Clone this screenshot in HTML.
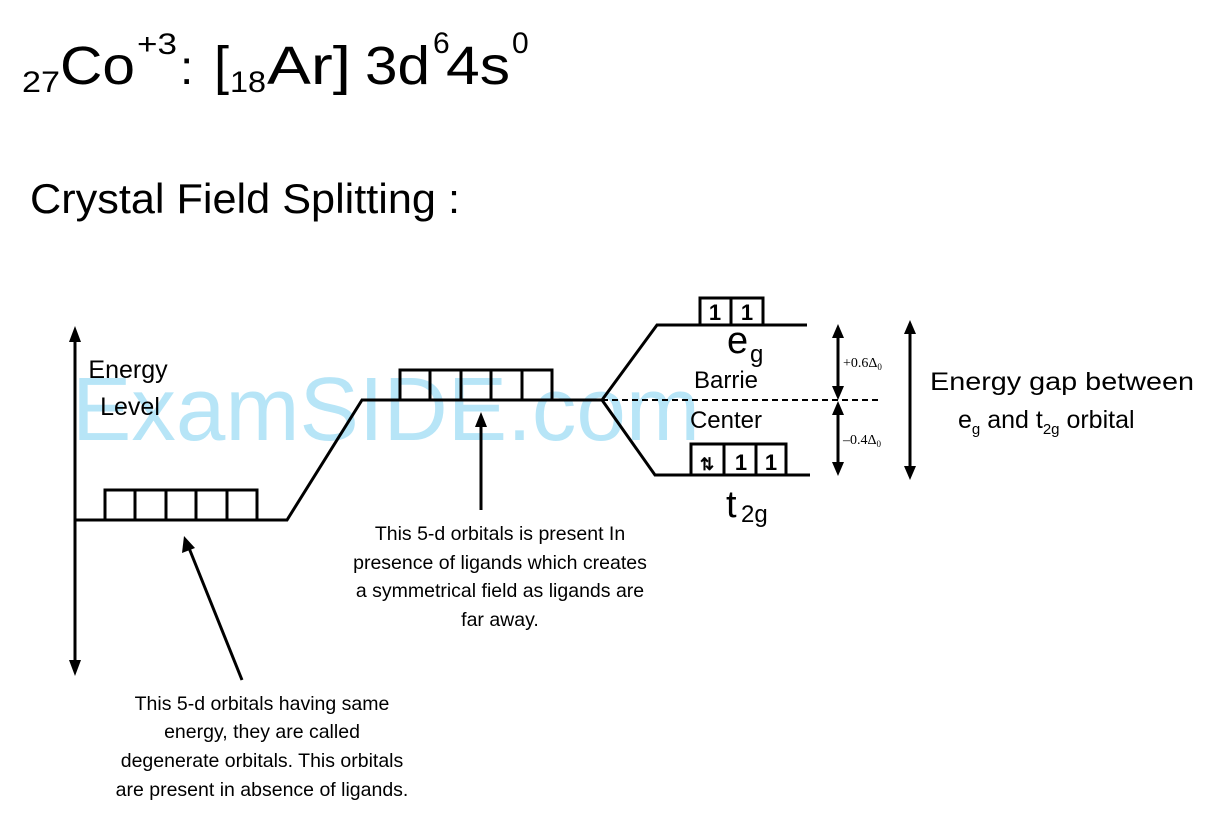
<!DOCTYPE html>
<html><head><meta charset="utf-8"><style>
html,body{margin:0;padding:0;background:#fff;}
svg{display:block;font-family:"Liberation Sans",sans-serif;}
</style></head><body>
<svg width="1220" height="815" viewBox="0 0 1220 815" xmlns="http://www.w3.org/2000/svg">
<!-- title -->
<text x="22" y="92" font-size="30" textLength="38" lengthAdjust="spacingAndGlyphs">27</text>
<text x="60" y="84" font-size="54" textLength="75" lengthAdjust="spacingAndGlyphs">Co</text>
<text x="137" y="54" font-size="30" textLength="40" lengthAdjust="spacingAndGlyphs">+3</text>
<text x="180" y="84" font-size="48">:</text>
<text x="214" y="84" font-size="54">[</text>
<text x="230" y="92" font-size="30" textLength="36" lengthAdjust="spacingAndGlyphs">18</text>
<text x="267" y="84" font-size="54" textLength="84" lengthAdjust="spacingAndGlyphs">Ar]</text>
<text x="365" y="84" font-size="54" textLength="65" lengthAdjust="spacingAndGlyphs">3d</text>
<text x="433" y="53" font-size="30">6</text>
<text x="446" y="84" font-size="54" textLength="64" lengthAdjust="spacingAndGlyphs">4s</text>
<text x="512" y="53" font-size="30">0</text>
<text x="30" y="213" font-size="42" textLength="430" lengthAdjust="spacingAndGlyphs">Crystal Field Splitting :</text>
<!-- watermark -->
<text x="72" y="440" font-size="90" fill="#9fdcf4" fill-opacity="0.75" textLength="628" lengthAdjust="spacingAndGlyphs">ExamSIDE.com</text>
<g stroke="#000" stroke-width="3" fill="none">
<line x1="75" y1="335" x2="75" y2="668"/>
<polyline points="75,520 287,520 362,400 602,400 657,325 807,325"/>
<polyline points="602,400 655,475 810,475"/>
<rect x="105" y="490" width="152" height="30"/>
<line x1="135" y1="490" x2="135" y2="520"/><line x1="166" y1="490" x2="166" y2="520"/><line x1="196" y1="490" x2="196" y2="520"/><line x1="227" y1="490" x2="227" y2="520"/>
<rect x="400" y="370" width="152" height="30"/>
<line x1="430" y1="370" x2="430" y2="400"/><line x1="461" y1="370" x2="461" y2="400"/><line x1="491" y1="370" x2="491" y2="400"/><line x1="522" y1="370" x2="522" y2="400"/>
<rect x="700" y="298" width="63" height="27"/><line x1="731" y1="298" x2="731" y2="325"/>
<rect x="691" y="444" width="95" height="31"/><line x1="724" y1="444" x2="724" y2="475"/><line x1="756" y1="444" x2="756" y2="475"/>
<line x1="602" y1="400" x2="878" y2="400" stroke-width="2" stroke-dasharray="6,4"/>
<line x1="838" y1="335" x2="838" y2="392"/>
<line x1="838" y1="408" x2="838" y2="466"/>
<line x1="910" y1="332" x2="910" y2="468"/>
<line x1="242" y1="680" x2="189" y2="548"/>
<line x1="481" y1="510" x2="481" y2="425"/>
</g>
<g fill="#000">
<polygon points="75,326 69,342 81,342"/>
<polygon points="75,676 69,660 81,660"/>
<polygon points="838,324 832,338 844,338"/>
<polygon points="838,400 832,386 844,386"/>
<polygon points="838,401 832,415 844,415"/>
<polygon points="838,476 832,462 844,462"/>
<polygon points="910,320 904,334 916,334"/>
<polygon points="910,480 904,466 916,466"/>
<polygon points="184,536 182,553 195,548"/>
<polygon points="481,412 475,427 487,427"/>
</g>
<g font-size="22" font-weight="bold" text-anchor="middle">
<text x="715" y="320">1</text><text x="747" y="320">1</text>
<text x="741" y="470">1</text><text x="771" y="470">1</text>
<text x="707" y="470" font-size="17">⇅</text>
</g>
<text x="727" y="353" font-size="38">e</text><text x="750" y="362" font-size="24">g</text>
<text x="726" y="517" font-size="38">t</text><text x="741" y="522" font-size="24">2g</text>
<g font-size="24" text-anchor="middle">
<text x="726" y="388">Barrie</text>
<text x="726" y="428">Center</text>
<text x="128" y="378" font-size="25">Energy</text>
<text x="130" y="415" font-size="25">Level</text>
<text x="1062" y="390" font-size="25" textLength="264" lengthAdjust="spacingAndGlyphs">Energy gap between</text>
</g>
<text x="958" y="428" font-size="25">e<tspan font-size="15" dy="6">g</tspan><tspan dy="-6"> and t</tspan><tspan font-size="15" dy="6">2g</tspan><tspan dy="-6"> orbital</tspan></text>
<g font-family="Liberation Serif,serif" font-size="14">
<text x="843" y="367">+0.6Δ<tspan font-size="9" dy="3">0</tspan></text>
<text x="843" y="444">–0.4Δ<tspan font-size="9" dy="3">0</tspan></text>
</g>
<g font-size="19.5" text-anchor="middle">
<text x="500" y="540">This 5-d orbitals is present In</text>
<text x="500" y="569">presence of ligands which creates</text>
<text x="500" y="597">a symmetrical field as ligands are</text>
<text x="500" y="626">far away.</text>
<text x="262" y="710">This 5-d orbitals having same</text>
<text x="262" y="738">energy, they are called</text>
<text x="262" y="767">degenerate orbitals. This orbitals</text>
<text x="262" y="796">are present in absence of ligands.</text>
</g>
</svg>
</body></html>
